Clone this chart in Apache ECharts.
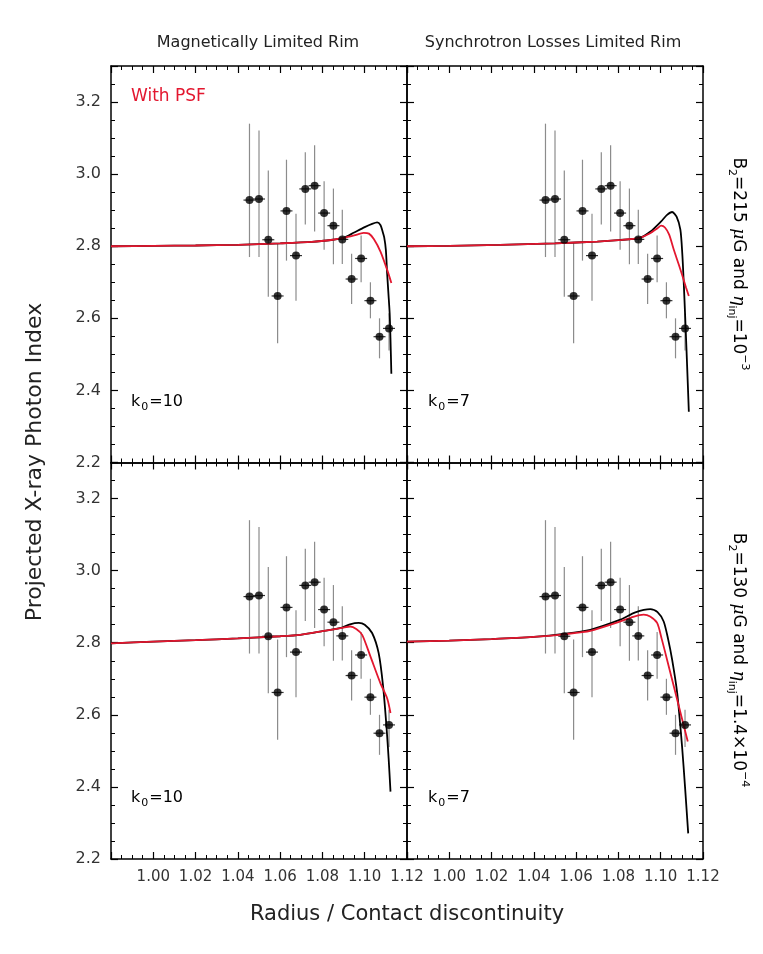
<!DOCTYPE html>
<html>
<head>
<meta charset="utf-8">
<script src="https://cdn.jsdelivr.net/npm/echarts@6/dist/echarts.min.js"></script>
<style>
  html, body { margin: 0; padding: 0; background: #fff; }
  #chart { width: 763px; height: 954px; }
</style>
</head>
<body>
<div id="chart"></div>
<script>
// measured photon index profile (same in every panel)
const radius  = [1.0455, 1.0500, 1.0544, 1.0588, 1.0630, 1.0675, 1.0719, 1.0763, 1.0808, 1.0852, 1.0894, 1.0938, 1.0983, 1.1027, 1.1070, 1.1115];
const index   = [2.928, 2.931, 2.818, 2.662, 2.898, 2.774, 2.959, 2.968, 2.892, 2.857, 2.819, 2.709, 2.766, 2.649, 2.549, 2.572];
const indexHi = [3.140, 3.121, 3.010, 2.809, 3.040, 2.890, 3.061, 3.080, 2.980, 2.960, 2.901, 2.779, 2.830, 2.700, 2.600, 2.614];
const indexLo = [2.770, 2.770, 2.660, 2.531, 2.760, 2.649, 2.860, 2.841, 2.790, 2.750, 2.751, 2.640, 2.700, 2.600, 2.489, 2.511];

// model curves, top left: magnetically limited, B2=215
const tlModelX = [0.98, 1.00, 1.02, 1.04, 1.06, 1.075, 1.085, 1.090, 1.095, 1.100, 1.1035, 1.1059, 1.1075, 1.1085, 1.1092, 1.1100, 1.1106, 1.1112, 1.1118, 1.1122, 1.1126];
const tlModelY = [2.800, 2.801, 2.802, 2.804, 2.808, 2.812, 2.818, 2.823, 2.838, 2.853, 2.862, 2.866, 2.858, 2.840, 2.825, 2.790, 2.725, 2.670, 2.614, 2.540, 2.446];
const tlPsfX = [0.98, 1.00, 1.02, 1.04, 1.06, 1.075, 1.085, 1.090, 1.095, 1.0995, 1.102, 1.1043, 1.1074, 1.1106, 1.1126];
const tlPsfY = [2.800, 2.801, 2.802, 2.804, 2.808, 2.812, 2.818, 2.823, 2.830, 2.837, 2.835, 2.820, 2.786, 2.735, 2.698];

// top right: synchrotron limited, B2=215
const trModelX = [0.98, 1.00, 1.024, 1.05, 1.07, 1.08, 1.09, 1.095, 1.1002, 1.103, 1.1054, 1.1075, 1.1093, 1.1102, 1.1109, 1.1116, 1.1122, 1.1128, 1.1133];
const trModelY = [2.800, 2.801, 2.804, 2.808, 2.813, 2.817, 2.823, 2.840, 2.869, 2.887, 2.895, 2.882, 2.846, 2.780, 2.698, 2.600, 2.512, 2.420, 2.341];
const trPsfX = [0.98, 1.00, 1.024, 1.05, 1.07, 1.08, 1.09, 1.095, 1.0985, 1.1002, 1.102, 1.104, 1.1062, 1.1085, 1.1101, 1.112, 1.1133];
const trPsfY = [2.800, 2.801, 2.804, 2.808, 2.813, 2.817, 2.823, 2.836, 2.850, 2.857, 2.852, 2.832, 2.790, 2.750, 2.721, 2.685, 2.662];

// bottom left: magnetically limited, B2=130
const blModelX = [0.98, 1.00, 1.02, 1.04, 1.06, 1.0695, 1.08, 1.0893, 1.093, 1.0972, 1.100, 1.1035, 1.1066, 1.1087, 1.1103, 1.1113, 1.1122];
const blModelY = [2.798, 2.803, 2.807, 2.812, 2.818, 2.822, 2.832, 2.842, 2.851, 2.855, 2.850, 2.827, 2.771, 2.679, 2.567, 2.480, 2.387];
const blPsfX = [0.98, 1.00, 1.02, 1.04, 1.06, 1.0695, 1.08, 1.0893, 1.0932, 1.096, 1.0988, 1.1027, 1.1074, 1.1106, 1.1122];
const blPsfY = [2.798, 2.803, 2.807, 2.812, 2.818, 2.822, 2.832, 2.841, 2.845, 2.838, 2.822, 2.762, 2.688, 2.646, 2.605];

// bottom right: synchrotron limited, B2=130
const brModelX = [0.98, 1.00, 1.02, 1.04, 1.055, 1.0667, 1.0809, 1.088, 1.0951, 1.0985, 1.1014, 1.1035, 1.1054, 1.1078, 1.1101, 1.1115, 1.113];
const brModelY = [2.803, 2.806, 2.810, 2.816, 2.825, 2.836, 2.864, 2.884, 2.893, 2.885, 2.859, 2.810, 2.753, 2.660, 2.512, 2.400, 2.271];
const brPsfX = [0.98, 1.00, 1.02, 1.04, 1.055, 1.0667, 1.0809, 1.087, 1.0919, 1.095, 1.0983, 1.1005, 1.103, 1.1078, 1.1128];
const brPsfY = [2.803, 2.806, 2.810, 2.816, 2.824, 2.833, 2.859, 2.872, 2.878, 2.873, 2.855, 2.810, 2.753, 2.642, 2.526];

const xTicks = [1.00, 1.02, 1.04, 1.06, 1.08, 1.10, 1.12];
const yTicks = [2.2, 2.4, 2.6, 2.8, 3.0, 3.2];

const FONT = 'DejaVu Sans';
const RED = '#e3172f';

const zip = (a, b) => a.map((v, i) => [v, b[i]]);

const panels = [
  { left: 111, top: 66, model: [tlModelX, tlModelY], psf: [tlPsfX, tlPsfY], showX: false, showY: true },
  { left: 407, top: 66, model: [trModelX, trModelY], psf: [trPsfX, trPsfY], showX: false, showY: false },
  { left: 111, top: 462.5, model: [blModelX, blModelY], psf: [blPsfX, blPsfY], showX: true, showY: true },
  { left: 407, top: 462.5, model: [brModelX, brModelY], psf: [brPsfX, brPsfY], showX: true, showY: false }
];

const grid = [], xAxis = [], yAxis = [], series = [];

panels.forEach((p, i) => {
  grid.push({ left: p.left, top: p.top, width: 296, height: 396.5, containLabel: false });
  const tick = { inside: true, length: 7, lineStyle: { color: '#000', width: 1.2 } };
  const minor = { show: true, splitNumber: 4, length: 4, lineStyle: { color: '#000', width: 1 } };
  const line = { lineStyle: { color: '#000', width: 1.5 } };
  ['bottom', 'top'].forEach(pos => {
    xAxis.push({
      type: 'value', gridIndex: i, position: pos, min: 0.98, max: 1.12, interval: 0.02,
      axisLine: line, axisTick: tick, minorTick: minor, splitLine: { show: false },
      axisLabel: {
        show: pos === 'bottom' && p.showX, showMinLabel: false, margin: 11,
        fontFamily: FONT, fontSize: 15, color: '#333',
        formatter: v => xTicks.some(t => Math.abs(t - v) < 1e-6) ? v.toFixed(2) : ''
      }
    });
  });
  ['left', 'right'].forEach(pos => {
    yAxis.push({
      type: 'value', gridIndex: i, position: pos, min: 2.2, max: 3.3, interval: 0.2,
      axisLine: line, axisTick: tick, minorTick: minor, splitLine: { show: false },
      axisLabel: {
        show: pos === 'left' && p.showY, showMaxLabel: false, margin: 10,
        fontFamily: FONT, fontSize: 16, color: '#333',
        formatter: v => yTicks.some(t => Math.abs(t - v) < 1e-6) ? v.toFixed(1) : ''
      }
    });
  });

  // error bars with small horizontal cap through the point
  series.push({
    type: 'custom', xAxisIndex: 2 * i, yAxisIndex: 2 * i, z: 1,
    data: radius.map((r, k) => [r, indexLo[k], indexHi[k], index[k]]),
    encode: { x: 0, y: [1, 2] },
    renderItem: (params, api) => {
      const a = api.coord([api.value(0), api.value(1)]);
      const b = api.coord([api.value(0), api.value(2)]);
      const c = api.coord([api.value(0), api.value(3)]);
      return {
        type: 'group', children: [
          { type: 'line', shape: { x1: a[0], y1: a[1], x2: b[0], y2: b[1] }, style: { stroke: '#8c8c8c', lineWidth: 1.2 } },
          { type: 'line', shape: { x1: c[0] - 6, y1: c[1], x2: c[0] + 6, y2: c[1] }, style: { stroke: '#333', lineWidth: 1.2 } }
        ]
      };
    }
  });
  series.push({
    type: 'line', xAxisIndex: 2 * i, yAxisIndex: 2 * i, z: 2, showSymbol: false, smooth: 0.25,
    data: zip(p.model[0], p.model[1]), lineStyle: { color: '#000', width: 1.8 }
  });
  series.push({
    type: 'line', xAxisIndex: 2 * i, yAxisIndex: 2 * i, z: 3, showSymbol: false, smooth: 0.25,
    data: zip(p.psf[0], p.psf[1]), lineStyle: { color: RED, width: 1.8 }
  });
  series.push({
    type: 'scatter', xAxisIndex: 2 * i, yAxisIndex: 2 * i, z: 4, symbol: 'circle', symbolSize: 8,
    data: zip(radius, index), itemStyle: { color: '#000' }
  });
});

const kText = (x, y, k) => ({
  type: 'text', left: x, top: y,
  style: {
    text: '{n|k}{s|0}{n|=' + k + '}',
    rich: {
      n: { fontFamily: FONT, fontSize: 16, color: '#111', lineHeight: 22, verticalAlign: 'middle' },
      s: { fontFamily: FONT, fontSize: 11, color: '#111', lineHeight: 22, verticalAlign: 'bottom', padding: [6, 1, 0, 1] }
    }
  }
});

const sideRich = {
  n: { fontFamily: FONT, fontSize: 17, color: '#111', lineHeight: 24, verticalAlign: 'middle' },
  sub: { fontFamily: FONT, fontSize: 11, color: '#111', lineHeight: 24, verticalAlign: 'bottom', padding: [7, 0, 0, 0] },
  sup: { fontFamily: FONT, fontSize: 11, color: '#111', lineHeight: 24, verticalAlign: 'top', padding: [0, 0, 8, 0] },
  g: { fontFamily: 'DejaVu Serif', fontStyle: 'italic', fontSize: 17, color: '#111', lineHeight: 24, verticalAlign: 'middle' }
};

const sideText = (x, y, txt) => ({
  type: 'text', x: x, y: y, rotation: -Math.PI / 2,
  style: { text: txt, rich: sideRich, align: 'center', verticalAlign: 'middle' }
});

const option = {
  animation: false,
  backgroundColor: '#fff',
  grid, xAxis, yAxis, series,
  graphic: [
    { type: 'text', x: 258, y: 43, style: { text: 'Magnetically Limited Rim', fontFamily: FONT, fontSize: 16, fill: '#222', align: 'center', verticalAlign: 'middle' } },
    { type: 'text', x: 553, y: 43, style: { text: 'Synchrotron Losses Limited Rim', fontFamily: FONT, fontSize: 16, fill: '#222', align: 'center', verticalAlign: 'middle' } },
    { type: 'text', x: 131, y: 97, style: { text: 'With PSF', fontFamily: FONT, fontSize: 17, fill: RED, align: 'left', verticalAlign: 'middle' } },
    kText(131, 394, '10'), kText(428, 394, '7'),
    kText(131, 790, '10'), kText(428, 790, '7'),
    { type: 'text', x: 35, y: 462, rotation: Math.PI / 2, style: { text: 'Projected X-ray Photon Index', fontFamily: FONT, fontSize: 22, fill: '#222', align: 'center', verticalAlign: 'middle' } },
    { type: 'text', x: 407, y: 915, style: { text: 'Radius / Contact discontinuity', fontFamily: FONT, fontSize: 21, fill: '#222', align: 'center', verticalAlign: 'middle' } },
    sideText(738, 264, '{n|B}{sub|2}{n|=215 }{g|μ}{n|G and }{g|η}{sub|inj}{n|=10}{sup|−3}'),
    sideText(738, 660, '{n|B}{sub|2}{n|=130 }{g|μ}{n|G and }{g|η}{sub|inj}{n|=1.4×10}{sup|−4}')
  ]
};

const chart = echarts.init(document.getElementById('chart'));
chart.setOption(option);
window.addEventListener('resize', () => chart.resize());
</script>
</body>
</html>
